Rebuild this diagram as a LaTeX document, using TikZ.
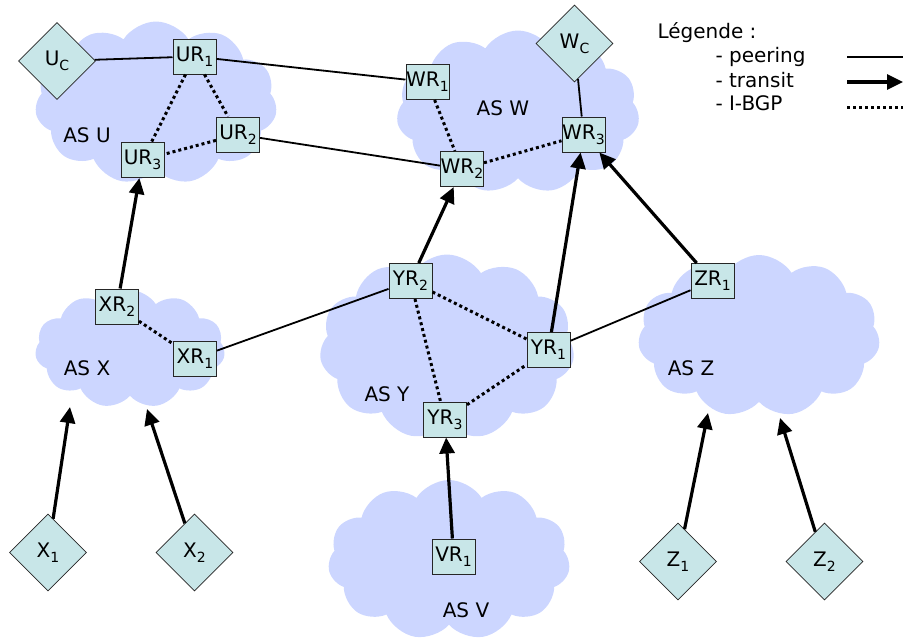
\documentclass[tikz,border=0pt]{standalone}
\usepackage{fontspec}
\setmainfont{DejaVu Sans}
\usetikzlibrary{positioning, shapes.symbols, shapes.geometric, arrows.meta}

\definecolor{cloudblue}{RGB}{204,214,255}
\definecolor{boxcyan}{RGB}{200,230,232}
\newcommand{\low}[1]{\raisebox{-5pt}{\fontsize{14}{15}\selectfont #1}}

\begin{document}
\begin{tikzpicture}
[
    x=1pt, y=-1pt, font=\fontsize{20}{22}\selectfont,
    % Clouds are named AS-<as>
    % Routers are named <as>R-<i>, customers <as>-<i>
]

%=================================== Start ===================================
\tikzstyle{as}      = [cloud, cloud puffs=11, cloud puff arc=115, cloud ignores aspect,
                       fill=cloudblue, inner sep=0pt]
\tikzstyle{rtr}     = [draw=black!85, fill=boxcyan, line width=1pt,
                       minimum width=43pt, minimum height=35pt, inner sep=0pt]
\tikzstyle{cust}    = [diamond, draw=black!85, fill=boxcyan, line width=0.7pt,
                       minimum width=77pt, minimum height=77pt, inner sep=0pt]
\tikzstyle{peer}    = [line width=1.8pt]
\tikzstyle{transit} = [line width=3.2pt, -{Triangle[length=16pt,width=15pt]}]
\tikzstyle{ibgp}    = [line width=3pt, dash pattern=on 3pt off 3pt]

\useasboundingbox (0,0) rectangle (903,641);

{
    % Draw clouds
    \foreach \n/\x/\y/\w/\h in {U/156/103/242/163, W/518/112/243/163,
                                X/130/349/190/118, Y/447/347/255/185,
                                Z/759/336/242/162, V/449/560/242/160}
        \node[as, minimum width=\w, minimum height=\h] (AS-\n) at (\x,\y) {};
    \foreach \n/\x/\y in {U/87/135, W/503/108, X/87/368, Y/387/394, Z/691/368, V/466/610}
        \node (lbl-\n) at (\x,\y) {AS \n};

    % Draw routers
    \foreach \a/\i/\x/\y in {U/1/194.5/56.5, U/2/238/134.5, U/3/142.5/160,
                             W/1/427.5/82, W/2/462/169, W/3/583.5/134.5,
                             X/1/195/358.5, X/2/117/306.5,
                             Y/1/548.5/350, Y/2/410.5/281, Y/3/445/419.5,
                             Z/1/712.5/281, V/1/453.5/556.5}
        \node[rtr] (\a R-\i) at (\x,\y) {\a R\low{\i}};

    % Draw customers
    \foreach \n/\s/\x/\y in {U/C/57/61, W/C/574.5/43.5, X/1/48/552.5,
                             X/2/194.5/552.5, Z/1/678/561.5, Z/2/824.5/561.5}
        \node[cust] (\n-\s) at (\x,\y) {\n\low{\s}};

    % free ends of transit links into a cloud
    \coordinate (X-in-1) at (70,407);
    \coordinate (X-in-2) at (147,409);
    \coordinate (Z-in-1) at (708,413);
    \coordinate (Z-in-2) at (780,418);

    % Connect nodes
    \foreach \src/\dst in {U-C/UR-1, UR-1/WR-1, UR-2/WR-2, XR-1/YR-2, YR-1/ZR-1, W-C/WR-3}
        \path (\src) edge[peer] (\dst);
    \foreach \src/\dst in {X-1/X-in-1, X-2/X-in-2, Z-1/Z-in-1, Z-2/Z-in-2,
                           VR-1/YR-3, XR-2/UR-3, YR-2/WR-2, YR-1/WR-3, ZR-1/WR-3}
        \path (\src) edge[transit] (\dst);
    \foreach \src/\dst in {UR-1/UR-2, UR-1/UR-3, UR-2/UR-3, WR-1/WR-2, WR-2/WR-3,
                           XR-2/XR-1, YR-2/YR-1, YR-2/YR-3, YR-3/YR-1}
        \path (\src) edge[ibgp] (\dst);

    % Legend
    \node[anchor=west] (leg)      at (654,33)  {Légende :};
    \node[anchor=west] (leg-peer) at (712,57)  {- peering};
    \node[anchor=west] (leg-tr)   at (712,80)  {- transit};
    \node[anchor=west] (leg-ibgp) at (712,103) {- I-BGP};
    \foreach \k/\y in {peer/57, tr/82, ibgp/107} {
        \coordinate (\k-a) at (847,\y);
        \coordinate (\k-b) at (903,\y);
    }
    \path (peer-a) edge[peer] (peer-b);
    \path (tr-a) edge[transit] (tr-b);
    \path (ibgp-a) edge[ibgp] (ibgp-b);
}
%==================================== END ====================================

\end{tikzpicture}
\end{document}
